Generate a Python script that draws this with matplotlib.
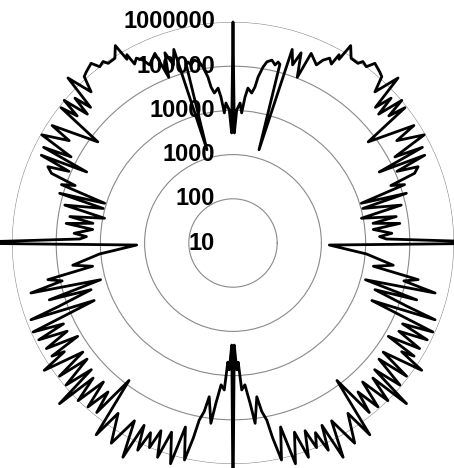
import numpy as np
import matplotlib
matplotlib.use("Agg")
from matplotlib import pyplot as plt

# right half of the pattern (angle in degrees, log10 of the value)
# the left half is its mirror image around the vertical axis
theta_right = [
    -90.0, -89.3, -88.3, -87.5, -86.6, -85.2, -83.9, -83.0, -81.2, -80.3,
    -79.2, -78.5, -77.4, -75.5, -74.2, -72.0, -70.6, -69.0, -67.8, -66.5,
    -65.3, -64.0, -62.8, -61.0, -58.7, -56.0, -54.5, -52.9, -51.2, -50.0,
    -48.5, -47.0, -45.5, -44.0, -42.8, -41.8, -40.4, -38.5, -37.5, -36.0,
    -34.0, -32.8, -32.0, -31.0, -29.5, -28.0, -26.5, -25.5, -24.0, -22.5,
    -20.8, -20.0, -18.2, -17.2, -15.5, -13.9, -12.5, -11.2, -9.4, -7.9,
    -4.7, -1.2, 0.0, 1.5, 2.5, 3.5, 5.5, 6.7, 8.0, 9.2,
    10.9, 12.7, 14.9, 16.0, 17.2, 18.8, 20.0, 21.0, 22.4, 23.6,
    24.6, 25.9, 26.8, 28.0, 29.5, 32.0, 33.0, 36.8, 38.2, 39.2,
    40.2, 41.5, 42.5, 43.6, 45.0, 46.8, 48.2, 49.4, 51.7, 52.9,
    54.4, 55.2, 57.4, 59.2, 60.0, 60.6, 61.2, 62.4, 63.8, 64.9,
    67.6, 68.8, 70.3, 71.5, 73.0, 74.4, 75.3, 76.0, 76.7, 78.0,
    79.4, 80.3, 81.4, 82.0, 82.9, 84.5, 85.3, 86.2, 87.1, 88.4,
    89.3, 90.0,
]
log_r_right = [
    7.00, 3.31, 3.87, 3.70, 4.33, 4.22, 4.65, 5.11, 4.52, 4.87,
    5.08, 5.50, 6.03, 5.30, 6.19, 5.50, 6.14, 5.55, 6.00, 5.68,
    6.16, 5.59, 6.45, 5.60, 6.30, 5.65, 6.33, 4.90, 5.92, 5.40,
    5.95, 5.30, 6.00, 5.40, 6.35, 5.30, 5.96, 5.22, 5.95, 5.20,
    6.15, 5.54, 5.83, 5.10, 5.85, 5.25, 5.91, 5.25, 5.95, 4.40,
    5.89, 5.20, 4.38, 5.35, 4.11, 5.71, 4.96, 5.27, 4.22, 4.66,
    4.03, 3.18, 7.50, 4.47, 4.32, 4.60, 4.19, 4.80, 4.20, 4.74,
    3.96, 4.90, 4.04, 5.08, 4.04, 5.10, 4.80, 5.40, 5.53, 5.05,
    5.77, 4.68, 5.80, 5.15, 5.97, 5.37, 5.88, 4.82, 5.95, 5.55,
    6.00, 5.40, 5.85, 5.45, 6.28, 5.69, 6.05, 6.10, 6.18, 6.00,
    6.05, 5.95, 5.96, 6.20, 5.80, 5.89, 5.62, 5.72, 5.61, 5.45,
    5.64, 5.02, 5.57, 5.25, 5.58, 3.19, 5.18, 5.22, 5.14, 5.23,
    5.17, 5.04, 4.80, 4.56, 4.42, 4.52, 4.31, 3.95, 4.17, 4.01,
    3.49, 6.00,
]

ring_values = [10, 100, 1000, 10000, 100000, 1000000]
ring_labels = ["10", "100", "1000", "10000", "100000", "1000000"]

theta_right = np.array(theta_right)
log_r_right = np.array(log_r_right)
# mirror: left half goes from 90 deg round to 270 deg
theta_left = 180.0 - theta_right[::-1][1:]
log_r_left = log_r_right[::-1][1:]
theta = np.deg2rad(np.concatenate([theta_right, theta_left]))
r = 10 ** np.concatenate([log_r_right, log_r_left])

fig = plt.figure(figsize=(4.54, 4.68), dpi=100)
ax = fig.add_axes([12 / 454, 4 / 468, 442 / 454, 442 / 468], projection="polar")
ax.set_rscale("log")
ax.set_ylim(10, 1e6)
ax.set_xticks([])
ax.set_yticks(ring_values)
ax.set_yticklabels([])
ax.yaxis.set_minor_locator(matplotlib.ticker.NullLocator())
ax.yaxis.grid(True, color="#8a8a8a", lw=0.8)
ax.spines["polar"].set_visible(False)

ax.plot(theta, r, color="black", lw=2.0, clip_on=False)

for v, s in zip(ring_values, ring_labels):
    ax.annotate(s, xy=(np.pi / 2, v), xytext=(-18, 0), textcoords="offset pixels",
                ha="right", va="center", fontsize=17, fontweight="bold",
                family="Liberation Sans", annotation_clip=False)

fig.savefig("out.png", dpi=100)
